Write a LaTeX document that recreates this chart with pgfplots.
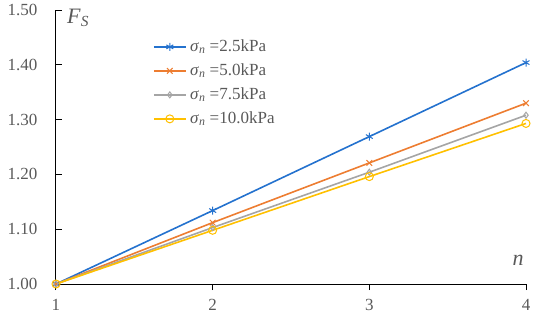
\documentclass[border=0pt]{standalone}
\usepackage{fontspec}
\setmainfont{Liberation Serif}
\usepackage{pgfplots}
\pgfplotsset{compat=1.18}
\definecolor{cblue}{RGB}{36,114,206}
\definecolor{corange}{RGB}{237,125,49}
\definecolor{cgray}{RGB}{165,165,165}
\definecolor{cyellow}{RGB}{255,192,0}
\definecolor{tgray}{RGB}{89,89,89}
\newcommand{\sig}{\textit{σ}\textsubscript{\textit{n}}}
\begin{document}
\begin{tikzpicture}
\begin{axis}[
  at={(0pt,0pt)}, anchor=south west,
  scale only axis,
  width=470pt, height=274pt,
  xmin=1, xmax=4, ymin=1, ymax=1.5,
  xtick={1,2,3,4}, ytick={1.0,1.1,1.2,1.3,1.4,1.5},
  axis lines=left,
  axis line style={black, line width=1pt, -},
  x tick style={black, line width=1pt},
  y tick style={black, line width=1pt},
  xtick align=outside, ytick align=inside,
  major tick length=6pt,
  tick label style={font=\fontsize{17}{19}\selectfont, text=tgray},
  /pgf/number format/assume math mode=true,
  yticklabel style={xshift=-15pt, /pgf/number format/fixed, /pgf/number format/fixed zerofill, /pgf/number format/precision=2},
  xticklabel style={yshift=-6pt, /pgf/number format/fixed, /pgf/number format/precision=0},
  legend style={draw=none, fill=none, at={(0.206,0.91)}, anchor=north west, inner sep=0pt,
    font=\fontsize{17}{19}\selectfont, text=tgray, row sep=0pt,
    nodes={text height=13pt, text depth=4pt, inner sep=3.5pt}},
  legend cell align=left,
  legend image code/.code={\draw[#1] (0pt,0pt) -- (32pt,0pt); \draw[#1, mark repeat=1] plot coordinates {(16pt,0pt)};},
  clip=false,
]
\addplot[cblue, line width=1.6pt, mark=asterisk, mark size=4pt, mark options={line width=1pt}] coordinates {(1,1.000) (2,1.134) (3,1.269) (4,1.404)};
\addlegendentry{\sig{} =2.5kPa}
\addplot[corange, line width=1.6pt, mark=x, mark size=4pt, mark options={line width=1pt}] coordinates {(1,1.000) (2,1.112) (3,1.221) (4,1.330)};
\addlegendentry{\sig{} =5.0kPa}
\addplot[cgray, line width=1.6pt, mark=diamond, mark size=3pt, mark options={line width=1pt}] coordinates {(1,1.000) (2,1.103) (3,1.204) (4,1.308)};
\addlegendentry{\sig{} =7.5kPa}
\addplot[cyellow, line width=1.6pt, mark=o, mark size=4pt, mark options={line width=1pt}] coordinates {(1,1.000) (2,1.098) (3,1.196) (4,1.293)};
\addlegendentry{\sig{} =10.0kPa}
\node[anchor=west, text=tgray, font=\fontsize{22}{24}\selectfont, inner sep=0pt] at (axis cs:1.07,1.485) {\textit{F}\textsubscript{\textit{S}}};
\node[anchor=center, text=tgray, font=\fontsize{22}{24}\selectfont, inner sep=0pt] at (axis cs:3.949,1.044) {\textit{n}};
\end{axis}
\pgfresetboundingbox
\path[use as bounding box] (-56pt,-33pt) rectangle (477pt,284pt);
\end{tikzpicture}
\end{document}
